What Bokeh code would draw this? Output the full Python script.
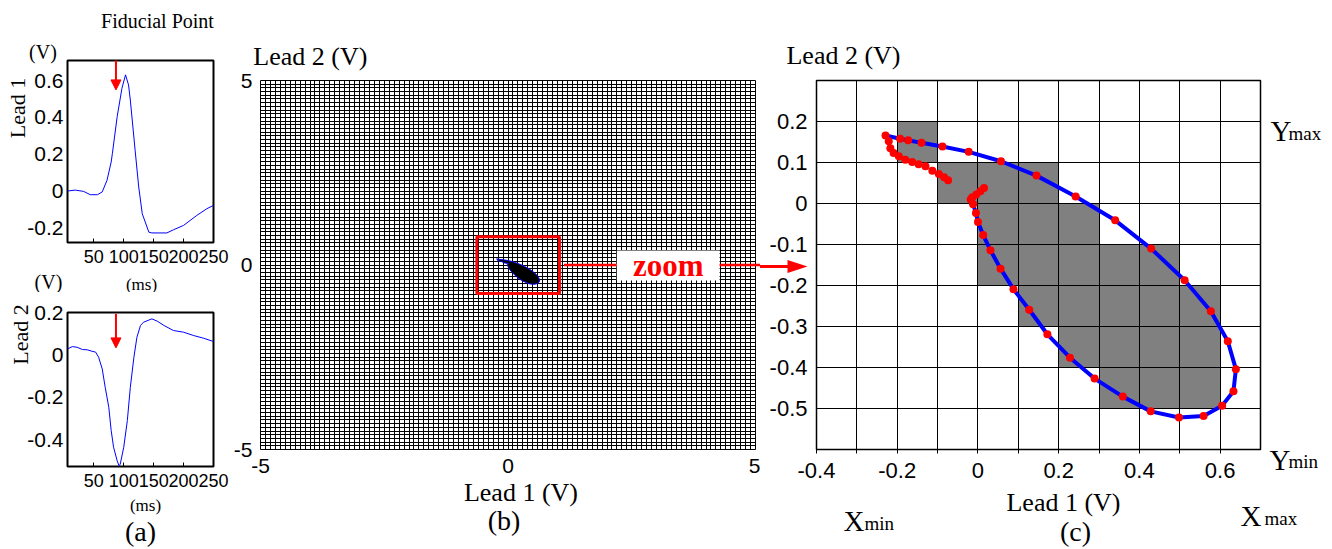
import numpy as np
from bokeh.plotting import figure
from bokeh.layouts import row, column
from bokeh.models import Range1d, FixedTicker, Arrow, NormalHead
from bokeh.core.properties import value
from bokeh.embed import file_html
from bokeh.resources import INLINE

# ---------------- data ----------------
lead1_t = [6, 19, 33, 44, 56, 64, 72, 79, 81, 89, 97, 103, 108, 111, 119, 125,
           131, 142, 147, 172, 183, 200, 222, 239, 250]
lead1_v = [0.0, 0.005, -0.002, -0.02, -0.02, -0.005, 0.058, 0.158, 0.204, 0.404,
           0.559, 0.632, 0.577, 0.495, 0.222, 0.022, -0.124, -0.224, -0.228,
           -0.228, -0.211, -0.187, -0.133, -0.096, -0.078]

lead2_t = [6, 14, 22, 31, 39, 47, 53, 58, 64, 69, 75, 79, 83, 89, 92, 94, 100,
           106, 111, 117, 122, 128, 133, 147, 156, 167, 183, 200, 217, 233, 250]
lead2_v = [0.028, 0.039, 0.036, 0.025, 0.024, 0.017, 0.013, -0.011, -0.066,
           -0.153, -0.247, -0.357, -0.436, -0.5, -0.523, -0.518, -0.436, -0.31,
           -0.153, -0.011, 0.083, 0.139, 0.154, 0.17, 0.159, 0.139, 0.115,
           0.107, 0.091, 0.079, 0.063]

fiducial_ms = 87

loop_x = [0.015, 0.006, -0.004, -0.014, -0.018, -0.012, -0.005, 0.000, 0.013,
          0.031, 0.056, 0.088, 0.127, 0.172, 0.228, 0.289, 0.359, 0.428, 0.498,
          0.559, 0.605, 0.633, 0.639, 0.619, 0.577, 0.512, 0.429, 0.340, 0.242,
          0.145, 0.057, -0.023, -0.088, -0.140, -0.173, -0.193, -0.229,
          -0.221, -0.217, -0.209, -0.196, -0.180, -0.163, -0.147, -0.130,
          -0.113, -0.097, -0.084, -0.074]
loop_y = [0.038, 0.030, 0.022, 0.015, 0.010, -0.002, -0.023, -0.045, -0.077,
          -0.114, -0.159, -0.209, -0.259, -0.319, -0.376, -0.427, -0.471,
          -0.507, -0.522, -0.518, -0.493, -0.458, -0.404, -0.336, -0.263,
          -0.187, -0.110, -0.041, 0.017, 0.068, 0.103, 0.126, 0.139, 0.148,
          0.154, 0.158, 0.166,
          0.152, 0.135, 0.123, 0.115, 0.107, 0.101, 0.096, 0.091, 0.080,
          0.072, 0.064, 0.057]
qrs_first, qrs_last = 4, 37          # samples joined by the blue trace

cell_x = [-0.2, -0.1, 0.0, 0.1, 0.0, 0.1, 0.2, 0.0, 0.1, 0.2, 0.3, 0.4,
          0.1, 0.2, 0.3, 0.4, 0.5, 0.2, 0.3, 0.4, 0.5, 0.3, 0.4, 0.5]
cell_y = [0.1, 0.0, 0.0, 0.0, -0.1, -0.1, -0.1, -0.2, -0.2, -0.2, -0.2, -0.2,
          -0.3, -0.3, -0.3, -0.3, -0.3, -0.4, -0.4, -0.4, -0.4, -0.5, -0.5, -0.5]
cell_size = 0.1

a_xticks = [50, 100, 150, 200, 250]
a1_yticks = [-0.2, 0, 0.2, 0.4, 0.6]
a2_yticks = [-0.4, -0.2, 0, 0.2]
b_ticks = [-5, 0, 5]
c_xticks = [-0.4, -0.2, 0, 0.2, 0.4, 0.6]
c_xminor = [-0.3, -0.1, 0.1, 0.3, 0.5]
c_yticks = [-0.5, -0.4, -0.3, -0.2, -0.1, 0, 0.1, 0.2]

SANS = "Liberation Sans"
SERIF = "Liberation Serif"


def make_fig(ox, oy, w, h, fl, ft, fw, fh, xr, yr):
    p = figure(width=w, height=h, x_range=Range1d(*xr), y_range=Range1d(*yr),
               output_backend="svg", toolbar_location=None,
               min_border_left=fl - ox, min_border_top=ft - oy,
               min_border_right=ox + w - (fl + fw),
               min_border_bottom=oy + h - (ft + fh))
    p.background_fill_color = "white"
    p.border_fill_color = "white"
    p.outline_line_color = "black"
    p.outline_line_width = 1.2

    def to_data(px, py):
        return (xr[0] + (px - fl) / fw * (xr[1] - xr[0]),
                yr[1] - (py - ft) / fh * (yr[1] - yr[0]))
    return p, to_data


def style_axis(ax, ticks, size, standoff, tick_in=0, tick_out=0, minor=None):
    ax.ticker = FixedTicker(ticks=ticks, minor_ticks=minor or [])
    ax.axis_line_color = None
    ax.major_tick_line_color = "black"
    ax.minor_tick_line_color = "black" if minor else None
    ax.minor_tick_in = 0
    ax.minor_tick_out = tick_out
    ax.major_tick_in = tick_in
    ax.major_tick_out = tick_out
    ax.major_label_text_font = SANS
    ax.major_label_text_font_size = f"{size}px"
    ax.major_label_text_color = "black"
    ax.major_label_standoff = standoff
    ax.major_label_overrides = {t: f"{t:g}" for t in ticks}


def put_text(p, m, px, py, text, size, font=SERIF, align="center",
             baseline="middle", angle=0.0, color="black", style="normal"):
    x, y = m(px, py)
    p.text(x=[x], y=[y], text=[text], text_font=value(font),
           text_font_size=value(f"{size}px"), text_align=align,
           text_baseline=baseline, angle=angle, text_color=color,
           text_font_style=style, level="overlay")


# ---------------- panel (a), top ----------------
p1, m1 = make_fig(0, 0, 230, 292, 67, 60, 146, 182, (6, 250), (-0.28, 0.71))
p1.outline_line_width = 2
p1.xgrid.visible = False
p1.ygrid.visible = False
style_axis(p1.xaxis[0], a_xticks, 18, 7, tick_in=4)
style_axis(p1.yaxis[0], a1_yticks, 21, 4)
p1.line(lead1_t, lead1_v, color="blue", line_width=1)
p1.add_layout(Arrow(end=NormalHead(size=10, fill_color="red", line_color="red"),
                    x_start=fiducial_ms, y_start=0.72, x_end=fiducial_ms,
                    y_end=0.55, line_color="red", line_width=2))
put_text(p1, m1, 157, 20, "Fiducial Point", 20)
put_text(p1, m1, 42.5, 51.5, "(V)", 20)
put_text(p1, m1, 16.5, 107.5, "Lead 1", 22, angle=np.pi / 2)
put_text(p1, m1, 141, 283.5, "(ms)", 17)
put_text(p1, m1, 48, 281.5, "(V)", 20)

# ---------------- panel (a), bottom ----------------
p2, m2 = make_fig(0, 292, 230, 257, 67, 312, 146, 154, (6, 250), (-0.527, 0.2))
p2.outline_line_width = 2
p2.xgrid.visible = False
p2.ygrid.visible = False
style_axis(p2.xaxis[0], a_xticks, 18, 7, tick_in=4)
style_axis(p2.yaxis[0], a2_yticks, 21, 4)
p2.line(lead2_t, lead2_v, color="blue", line_width=1)
p2.add_layout(Arrow(end=NormalHead(size=10, fill_color="red", line_color="red"),
                    x_start=fiducial_ms, y_start=0.194, x_end=fiducial_ms,
                    y_end=0.033, line_color="red", line_width=2))
put_text(p2, m2, 19.5, 334, "Lead 2", 22, angle=np.pi / 2)
put_text(p2, m2, 145, 505, "(ms)", 17)
put_text(p2, m2, 140, 531, "(a)", 28)

# ---------------- panel (b) ----------------
B_L, B_T, B_W, B_H = 259, 75, 496, 382
pB, mB = make_fig(230, 0, 530, 549, B_L, B_T, B_W, B_H, (-5, 5), (-5, 5))
pB.outline_line_width = 1
style_axis(pB.xaxis[0], b_ticks, 21, 9)
style_axis(pB.yaxis[0], b_ticks, 21, 8)
b_grid = [round(v, 1) for v in np.arange(-5, 5.01, 0.1)]
for g in (pB.xgrid[0], pB.ygrid[0]):
    g.ticker = FixedTicker(ticks=b_grid)
    g.grid_line_color = "black"
    g.grid_line_alpha = 1
    g.grid_line_width = 1
pB.patch(loop_x, loop_y, fill_color="black", line_color="blue", line_width=1)
pad_x, pad_y = 0.4, 0.6
pB.quad(left=[min(loop_x) - pad_x], right=[max(loop_x) + pad_x],
        bottom=[min(loop_y) - 0.25], top=[max(loop_y) + pad_y],
        fill_color=None, line_color="red", line_width=3)
# red "zoom" arrow, from panel (b) across to panel (c)
arrow_py = B_T + B_H / 2            # window row of Lead 2 = 0 in panel (b)
half = 1.4
xa0, ya0 = mB(563, arrow_py - half)
xa1, ya1 = mB(775, arrow_py + half)
pB.quad(left=[xa0], right=[xa1], bottom=[ya0], top=[ya1],
        fill_color="red", line_color=None, level="overlay")
bx0, by0 = mB(616, 251)
bx1, by1 = mB(719, 282)
pB.quad(left=[bx0], right=[bx1], bottom=[by1], top=[by0],
        fill_color="white", line_color=None, level="overlay")
put_text(pB, mB, 667.5, 267, "zoom", 31, color="red", style="bold")
put_text(pB, mB, 309, 50, "Lead 2 (V)", 26)
put_text(pB, mB, 520, 502, "Lead 1 (V)", 26)
put_text(pB, mB, 503, 531, "(b)", 28)

# ---------------- panel (c) ----------------
pC, mC = make_fig(760, 0, 572, 549, 816, 80, 444, 369, (-0.4, 0.7), (-0.6, 0.3))
pC.outline_line_width = 1.5
style_axis(pC.xaxis[0], c_xticks, 22, 9, tick_out=4, minor=c_xminor)
style_axis(pC.yaxis[0], c_yticks, 22, 9)
c_gx = [round(v, 1) for v in np.arange(-0.4, 0.71, 0.1)]
c_gy = [round(v, 1) for v in np.arange(-0.6, 0.31, 0.1)]
pC.xgrid[0].ticker = FixedTicker(ticks=c_gx)
pC.ygrid[0].ticker = FixedTicker(ticks=c_gy)
for g in (pC.xgrid[0], pC.ygrid[0]):
    g.grid_line_color = "black"
    g.grid_line_alpha = 1
    g.grid_line_width = 1
pC.quad(left=cell_x, right=[x + cell_size for x in cell_x],
        bottom=cell_y, top=[y + cell_size for y in cell_y],
        fill_color="#808080", line_color=None, level="image")
pC.line(loop_x[qrs_first:qrs_last], loop_y[qrs_first:qrs_last],
        color="#0000ff", line_width=4)
pC.scatter(loop_x, loop_y, size=8, fill_color="#ff0000", line_color=None)
# continuation of the zoom arrow and its head
cx0, cy0 = mC(740, arrow_py - half)
cx1, cy1 = mC(788, arrow_py + half)
pC.quad(left=[cx0], right=[cx1], bottom=[cy0], top=[cy1],
        fill_color="red", line_color=None, level="overlay")
hx0, hy0 = mC(787, arrow_py - 6.5)
hx1, hym = mC(807, arrow_py)
_, hy1 = mC(787, arrow_py + 6.5)
pC.patch([hx0, hx1, hx0], [hy0, hym, hy1], fill_color="red", line_color=None,
         level="overlay")
put_text(pC, mC, 843, 55, "Lead 2 (V)", 26)
put_text(pC, mC, 1063, 502, "Lead 1 (V)", 26)
put_text(pC, mC, 1075, 531, "(c)", 28)
put_text(pC, mC, 1270, 130, "Y", 29, align="left", baseline="alphabetic")
put_text(pC, mC, 1288, 133, "max", 19, align="left", baseline="alphabetic")
put_text(pC, mC, 1269, 459, "Y", 29, align="left", baseline="alphabetic")
put_text(pC, mC, 1288, 461, "min", 19, align="left", baseline="alphabetic")
put_text(pC, mC, 843, 520, "X", 29, align="left", baseline="alphabetic")
put_text(pC, mC, 864, 523, "min", 19, align="left", baseline="alphabetic")
put_text(pC, mC, 1240, 515, "X", 29, align="left", baseline="alphabetic")
put_text(pC, mC, 1264, 518, "max", 19, align="left", baseline="alphabetic")

layout = row(column(p1, p2), pB, pC)
open("out.html", "w").write(file_html(layout, INLINE))
